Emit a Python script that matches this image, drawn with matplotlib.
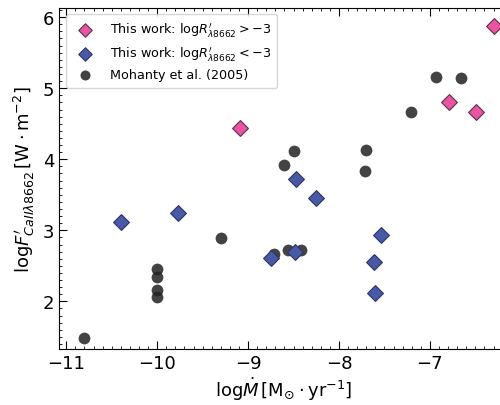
import matplotlib.pyplot as plt
from matplotlib.ticker import MultipleLocator

# This work, log R' > -3
hi_mdot = [-9.09, -6.79, -6.49, -6.30]
hi_flux = [4.44, 4.80, 4.67, 5.87]

# This work, log R' < -3
lo_mdot = [-10.40, -9.77, -8.47, -8.25, -7.535, -7.615, -7.60, -8.745, -8.48]
lo_flux = [3.12, 3.24, 3.72, 3.46, 2.93, 2.55, 2.12, 2.615, 2.69]

# Mohanty et al. (2005)
mo_mdot = [-10.80, -10.0, -10.0, -10.0, -10.0, -9.30, -8.72, -8.56, -8.42,
           -8.60, -8.50, -7.70, -7.71, -7.21, -6.93, -6.655]
mo_flux = [1.48, 2.46, 2.34, 2.155, 2.056, 2.89, 2.67, 2.73, 2.73,
           3.925, 4.12, 4.13, 3.835, 4.67, 5.155, 5.15]

fig = plt.figure(figsize=(5, 4.06), dpi=100)
# axes runs past the right edge, like the cropped original
ax = fig.add_axes([0.118, 0.138, 0.90, 0.84])

ax.scatter(hi_mdot, hi_flux, marker='D', s=65, color='#e9569f',
           edgecolor='#5a3050', linewidth=0.8, zorder=3,
           label=r'This work: $\mathrm{log}R^{\prime}_{\lambda8662} > -3$')
ax.scatter(lo_mdot, lo_flux, marker='D', s=65, color='#4a58a8',
           edgecolor='#2e3560', linewidth=0.8, zorder=3,
           label=r'This work: $\mathrm{log}R^{\prime}_{\lambda8662} < -3$')
ax.scatter(mo_mdot, mo_flux, marker='o', s=72, color='#222222', alpha=0.85,
           linewidth=0, zorder=2, label='Mohanty et al. (2005)')

ax.set_xlim(-11.08, -6.13)
ax.set_ylim(1.33, 6.13)
ax.set_xticks([-11, -10, -9, -8, -7])
ax.set_yticks([2, 3, 4, 5, 6])
ax.xaxis.set_minor_locator(MultipleLocator(0.1))
ax.yaxis.set_minor_locator(MultipleLocator(0.1))
ax.tick_params(which='both', direction='in', top=True, right=True, labelsize=13)
ax.tick_params(which='major', length=6)
ax.tick_params(which='minor', length=2.5)

ax.set_xlabel(r'$\mathrm{log}\dot{M}\,[\rm M_{\odot}\cdot yr^{-1}]$', fontsize=13, labelpad=2)
ax.set_ylabel(r'$\mathrm{log}F^{\prime}_{CaII\lambda8662}\,[\rm W\cdot m^{-2}]$', fontsize=13)

ax.legend(loc='upper left', fontsize=9.2, borderpad=0.5, labelspacing=0.45,
          handletextpad=0.9, markerscale=0.85, borderaxespad=0,
          bbox_to_anchor=(0.016, 0.982))

fig.savefig('out.png', dpi=100)
